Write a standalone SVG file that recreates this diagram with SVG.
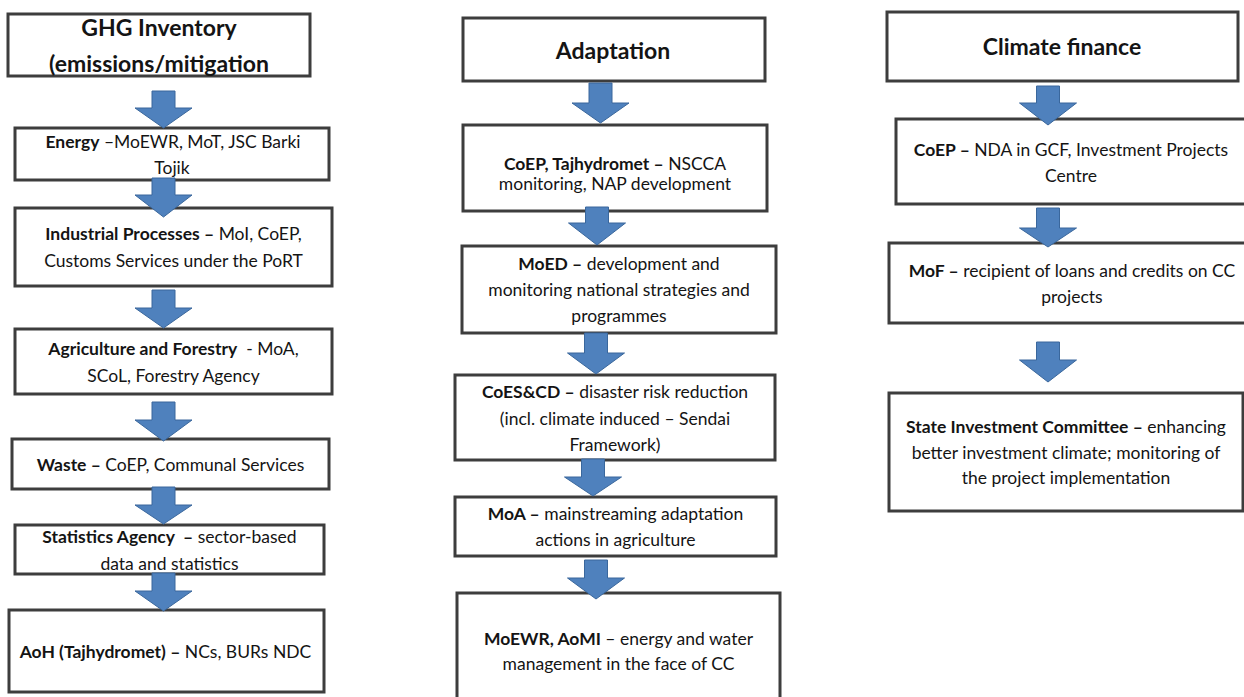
<svg xmlns="http://www.w3.org/2000/svg" width="1244" height="697" viewBox="0 0 1244 697">
<style>
.bg{fill:#ffffff}
.box{fill:#ffffff;stroke:#3d3d3d;stroke-width:3}
.arr{fill:#4F81BD;stroke:#3A679C;stroke-width:1}
.t{font-family:Lato,"Liberation Sans",sans-serif;font-size:17.5px;text-anchor:middle;fill:#141414}
.b{font-weight:bold}
.h{font-size:23px;font-weight:bold}
</style>
<rect class="bg" x="0" y="0" width="1244" height="697"/>
<g id="nodes">
<g id="ghg"><rect class="box" x="8" y="14" width="302" height="62"/>
<text class="t h" x="159" y="36">GHG Inventory</text>
<text class="t h" x="159" y="72">(emissions/mitigation</text></g>
<g id="energy"><rect class="box" x="15" y="128" width="314" height="52"/>
<text class="t" x="173" y="148"><tspan class="b">Energy</tspan> –MoEWR, MoT, JSC Barki</text>
<text class="t" x="172" y="174">Tojik</text></g>
<g id="industrial"><rect class="box" x="15" y="208" width="317" height="78"/>
<text class="t" x="173.5" y="240"><tspan class="b">Industrial Processes –</tspan> MoI, CoEP,</text>
<text class="t" x="173.5" y="267">Customs Services under the PoRT</text></g>
<g id="agriculture"><rect class="box" x="15" y="329" width="317" height="65"/>
<text class="t" x="173.5" y="355"><tspan class="b">Agriculture and Forestry</tspan>&#160; - MoA,</text>
<text class="t" x="173.5" y="382">SCoL, Forestry Agency</text></g>
<g id="waste"><rect class="box" x="12" y="439" width="317" height="50"/>
<text class="t" x="170.5" y="471"><tspan class="b">Waste –</tspan> CoEP, Communal Services</text></g>
<g id="statistics"><rect class="box" x="15" y="525" width="309" height="49"/>
<text class="t" x="169.5" y="543"><tspan class="b">Statistics Agency&#160; –</tspan> sector-based</text>
<text class="t" x="169.5" y="570">data and statistics</text></g>
<g id="aoh"><rect class="box" x="9" y="610" width="315" height="82"/>
<text class="t" x="165.5" y="658"><tspan class="b">AoH (Tajhydromet) –</tspan> NCs, BURs NDC</text></g>

<g id="adaptation"><rect class="box" x="463" y="18" width="302" height="63"/>
<text class="t h" x="613" y="59">Adaptation</text></g>
<g id="coep-taj"><rect class="box" x="463" y="125" width="304" height="86"/>
<text class="t" x="615" y="170"><tspan class="b">CoEP, Tajhydromet –</tspan> NSCCA</text>
<text class="t" x="615" y="190">monitoring, NAP development</text></g>
<g id="moed"><rect class="box" x="462" y="246" width="314" height="87"/>
<text class="t" x="619" y="270"><tspan class="b">MoED –</tspan> development and</text>
<text class="t" x="619" y="296">monitoring national strategies and</text>
<text class="t" x="619" y="322">programmes</text></g>
<g id="coes"><rect class="box" x="455" y="375" width="320" height="85"/>
<text class="t" x="615" y="398"><tspan class="b">CoES&amp;CD –</tspan> disaster risk reduction</text>
<text class="t" x="615" y="425">(incl. climate induced – Sendai</text>
<text class="t" x="615" y="451">Framework)</text></g>
<g id="moa"><rect class="box" x="455" y="497" width="321" height="59"/>
<text class="t" x="615.5" y="520"><tspan class="b">MoA –</tspan> mainstreaming adaptation</text>
<text class="t" x="615.5" y="546">actions in agriculture</text></g>
<g id="moewr"><rect class="box" x="457" y="593" width="323" height="120"/>
<text class="t" x="618.5" y="645"><tspan class="b">MoEWR, AoMI</tspan> – energy and water</text>
<text class="t" x="618.5" y="670">management in the face of CC</text></g>

<g id="finance"><rect class="box" x="887" y="12" width="351" height="69"/>
<text class="t h" x="1062" y="55">Climate finance</text></g>
<g id="coep-nda"><rect class="box" x="896" y="119" width="352" height="85"/>
<text class="t" x="1071" y="156"><tspan class="b">CoEP –</tspan> NDA in GCF, Investment Projects</text>
<text class="t" x="1071" y="182">Centre</text></g>
<g id="mof"><rect class="box" x="889" y="243" width="368" height="80"/>
<text class="t" x="1072" y="277"><tspan class="b">MoF –</tspan> recipient of loans and credits on CC</text>
<text class="t" x="1072" y="303">projects</text></g>
<g id="sic"><rect class="box" x="889" y="393" width="354" height="118"/>
<text class="t" x="1066" y="433"><tspan class="b">State Investment Committee –</tspan> enhancing</text>
<text class="t" x="1066" y="459">better investment climate; monitoring of</text>
<text class="t" x="1066" y="484">the project implementation</text></g>
</g>
<g id="connectors">
<path class="arr" d="M152,91H175V108H192L163.5,128L135,108H152Z"/>
<path class="arr" d="M152,178H175V195H192L163.5,217L135,195H152Z"/>
<path class="arr" d="M152,290H175V308H192L163.5,328L135,308H152Z"/>
<path class="arr" d="M152,402H175V420H192L163.5,441L135,420H152Z"/>
<path class="arr" d="M152,487H175V505H192L163.5,524L135,505H152Z"/>
<path class="arr" d="M152,573H175V591H192L163.5,611L135,591H152Z"/>
<path class="arr" d="M589,83H612V103H629L600.5,123L572,103H589Z"/>
<path class="arr" d="M585.5,207H608.5V223H625.5L597,245L568.5,223H585.5Z"/>
<path class="arr" d="M584.5,333H607.5V353H624.5L596,374L567.5,353H584.5Z"/>
<path class="arr" d="M581.5,459H604.5V477H621.5L593,496L564.5,477H581.5Z"/>
<path class="arr" d="M584.5,560H607.5V578H624.5L596,599L567.5,578H584.5Z"/>
<path class="arr" d="M1036.5,86H1059.5V103H1076.5L1048,125L1019.5,103H1036.5Z"/>
<path class="arr" d="M1036.5,208H1059.5V228H1076.5L1048,247L1019.5,228H1036.5Z"/>
<path class="arr" d="M1036.5,342H1059.5V360H1076.5L1048,382L1019.5,360H1036.5Z"/>
</g>
</svg>
